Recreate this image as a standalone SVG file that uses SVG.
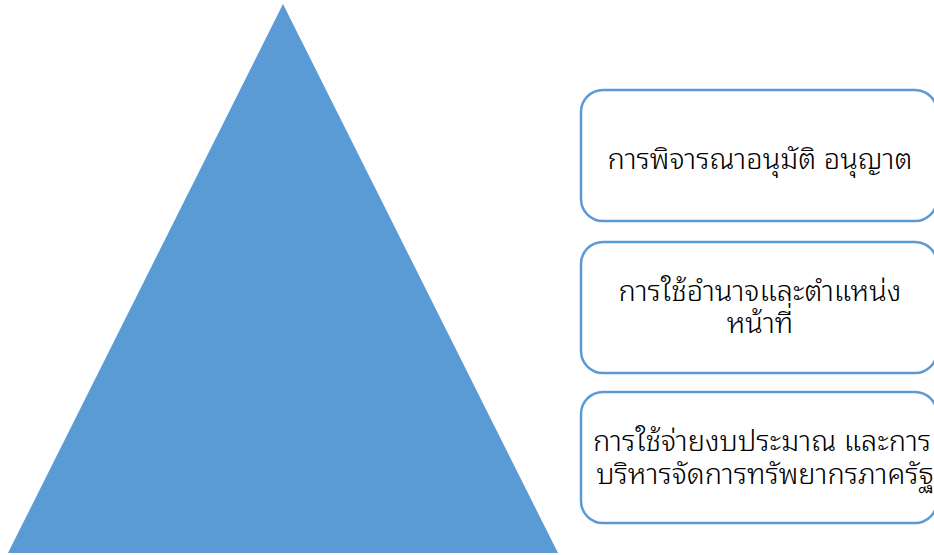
<svg xmlns="http://www.w3.org/2000/svg" width="934" height="555" viewBox="0 0 934 555">
<style>
.box{fill:#ffffff;stroke:#5B9BD5;stroke-width:2.5}
.t{font-family:"Noto Sans Thai Looped","Noto Sans Thai","Leelawadee UI","Noto Sans","DejaVu Sans",sans-serif;font-size:29px;font-weight:350;fill:#000000;text-anchor:middle}
</style>
<g id="pyramid">
<polygon points="283,4 8,553 558,553" fill="#5B9BD5"/>
</g>
<g id="box1">
<rect class="box" x="581" y="90" width="356" height="131" rx="22"/>
<text class="t" x="760" y="169">การพิจารณาอนุมัติ อนุญาต</text>
</g>
<g id="box2">
<rect class="box" x="581" y="242" width="356" height="131" rx="22"/>
<text class="t" x="760" y="301">การใช้อำนาจและตำแหน่ง</text>
<text class="t" x="760" y="333">หน้าที่</text>
</g>
<g id="box3">
<rect class="box" x="581" y="392" width="356" height="131" rx="22"/>
<text class="t" x="762" y="451">การใช้จ่ายงบประมาณ และการ</text>
<text class="t" x="765" y="484">บริหารจัดการทรัพยากรภาครัฐ</text>
</g>
<g id="connectors"></g>
</svg>
